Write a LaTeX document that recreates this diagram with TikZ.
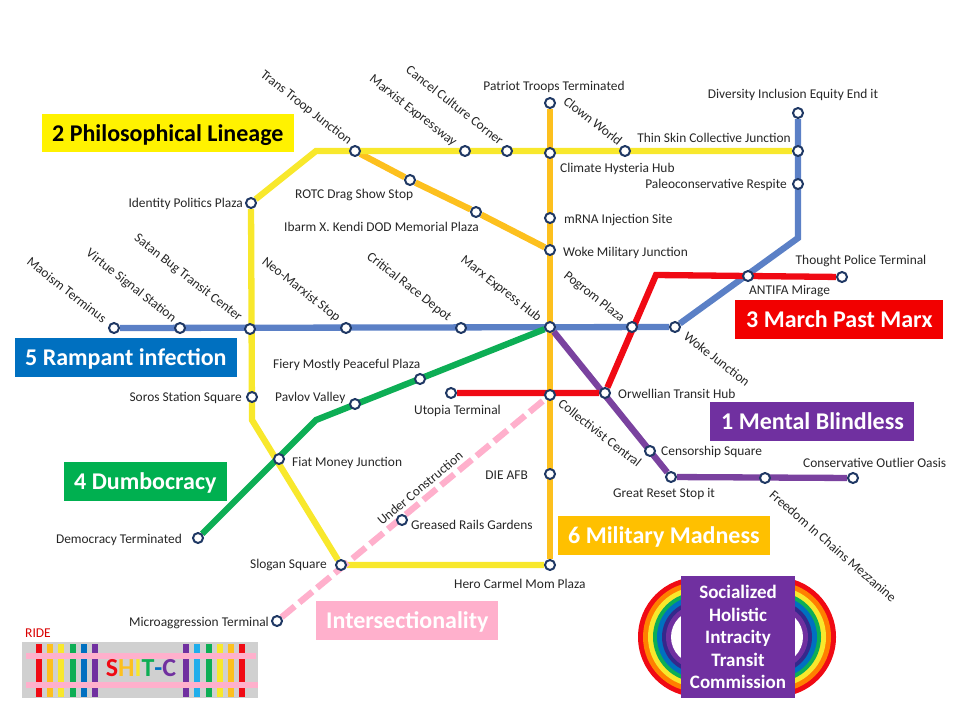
\documentclass[tikz,border=0pt]{standalone}
\usepackage{fontspec}
\setmainfont{Carlito}
\usetikzlibrary{backgrounds}
\definecolor{lineyellow}{HTML}{F8E82C}
\definecolor{lineorange}{HTML}{FDC01E}
\definecolor{lineblue}{HTML}{5B80C6}
\definecolor{linered}{HTML}{F00A14}
\definecolor{linegreen}{HTML}{0DAE55}
\definecolor{linepurple}{HTML}{7A429F}
\definecolor{linepink}{HTML}{FFB0CC}
\definecolor{stationnavy}{HTML}{1F3864}
\definecolor{boxblue}{HTML}{0070C0}
\definecolor{boxgreen}{HTML}{00B050}
\definecolor{boxpurple}{HTML}{7030A0}
\definecolor{boxorange}{HTML}{FFC000}
\definecolor{labelgrey}{HTML}{262626}
\definecolor{logogrey}{HTML}{D0D0D0}
\definecolor{skyblue}{HTML}{1FAEEB}
\definecolor{darkring}{HTML}{35288C}

\begin{document}
\begin{tikzpicture}[x=1pt,y=-1pt,
		stn/.style={circle,draw=stationnavy,fill=white,line width=2pt,minimum size=10pt,inner sep=0pt},
		route/.style={line width=6.3pt,line join=miter},
		lbl/.style={text=labelgrey,font=\fontsize{13.4}{15}\selectfont,inner sep=0pt,yshift=-1pt},
		slbl/.style={lbl,rotate=-38},
		bigbox/.style={font=\fontsize{24}{28}\bfseries\selectfont,inner sep=0pt,anchor=base west}]
		\useasboundingbox (0,0) rectangle (960,720);
		% stations
		\node[stn] (patriot) at (550,103) {};
		\node[stn] (climate) at (550,153) {};
		\node[stn] (mrna) at (550,218) {};
		\node[stn] (wokemil) at (550,250) {};
		\node[stn] (marxhub) at (550,327) {};
		\node[stn] (collectivist) at (550,395) {};
		\node[stn] (dieafb) at (550,474) {};
		\node[stn] (hero) at (550,565) {};
		\node[stn] (diversity) at (798,113) {};
		\node[stn] (thinskin) at (798,151) {};
		\node[stn] (paleo) at (798,184) {};
		\node[stn] (clown) at (625,151) {};
		\node[stn] (transtroop) at (355,151) {};
		\node[stn] (marxist) at (465,151) {};
		\node[stn] (cancel) at (507,151) {};
		\node[stn] (rotc) at (410,180) {};
		\node[stn] (ibarm) at (476,212) {};
		\node[stn] (identity) at (251,203) {};
		\node[stn] (soros) at (252,397) {};
		\node[stn] (fiat) at (279,459) {};
		\node[stn] (slogan) at (341,565) {};
		\node[stn] (maoism) at (114,328) {};
		\node[stn] (virtue) at (180,328) {};
		\node[stn] (satan) at (250,329) {};
		\node[stn] (neomarx) at (346,328) {};
		\node[stn] (critical) at (461,328) {};
		\node[stn] (pogrom) at (632,327) {};
		\node[stn] (wokejct) at (675,327) {};
		\node[stn] (thought) at (842,277) {};
		\node[stn] (antifa) at (748,276) {};
		\node[stn] (utopia) at (451,393) {};
		\node[stn] (orwell) at (605,393) {};
		\node[stn] (censor) at (650,451) {};
		\node[stn] (greatreset) at (671,477) {};
		\node[stn] (freedom) at (765,478) {};
		\node[stn] (outlier) at (853,478) {};
		\node[stn] (fiery) at (420,379) {};
		\node[stn] (pavlov) at (355,404) {};
		\node[stn] (democracy) at (198,538) {};
		\node[stn] (greased) at (402,520) {};
		\node[stn] (microagg) at (277,621) {};
		% bends
		\coordinate (yellowtop) at (316,151);
		\coordinate (yellowlow) at (252,420);
		\coordinate (bluebend) at (798,238);
		\coordinate (redbend) at (656,275);
		\coordinate (greenbend) at (316,420);
		% routes
		\begin{scope}[on background layer]
		\draw[route,lineorange] (patriot) -- (hero);
		\draw[route,lineorange] (transtroop) -- (rotc) -- (ibarm) -- (wokemil);
		\draw[route,lineyellow] (thinskin) -- (yellowtop) -- (identity) -- (yellowlow) -- (slogan) -- (hero);
		\draw[route,lineblue] (maoism) -- (wokejct) -- (bluebend) -- (diversity);
		\draw[route,linegreen] (democracy) -- (greenbend) -- (marxhub);
		\draw[route,linepurple] (marxhub) -- (greatreset) -- (outlier);
		\draw[route,linered] (utopia) -- (orwell) -- (redbend) -- (thought);
		\draw[route,linepink,dash pattern=on 17pt off 6pt] (microagg) -- (collectivist);
		\end{scope}
		% level labels
		\node[lbl] (patriotlbl) at (554,86) {Patriot Troops Terminated};
		\node[lbl] (divlbl) at (793,94) {Diversity Inclusion Equity End it};
		\node[lbl] (thinlbl) at (714,137) {Thin Skin Collective Junction};
		\node[lbl,anchor=west] (climlbl) at (560,168) {Climate Hysteria Hub};
		\node[lbl,anchor=east] (palelbl) at (787,184) {Paleoconservative Respite};
		\node[lbl,anchor=west] (mrnalbl) at (564,219) {mRNA Injection Site};
		\node[lbl,anchor=west] (wmlbl) at (563,252) {Woke Military Junction};
		\node[lbl] (thoulbl) at (861,260) {Thought Police Terminal};
		\node[lbl,anchor=west] (antilbl) at (749,290) {ANTIFA Mirage};
		\node[lbl,anchor=west] (rotclbl) at (295,194) {ROTC Drag Show Stop};
		\node[lbl,anchor=west] (ibarlbl) at (284,226) {Ibarm X. Kendi DOD Memorial Plaza};
		\node[lbl,anchor=east] (idenlbl) at (243,203) {Identity Politics Plaza};
		\node[lbl,anchor=west] (fierlbl) at (273,364) {Fiery Mostly Peaceful Plaza};
		\node[lbl,anchor=west] (pavllbl) at (275,397) {Pavlov Valley};
		\node[lbl,anchor=east] (sorolbl) at (242,397) {Soros Station Square};
		\node[lbl,anchor=west] (utoplbl) at (414,410) {Utopia Terminal};
		\node[lbl,anchor=west] (orwelbl) at (618,393) {Orwellian Transit Hub};
		\node[lbl,anchor=west] (censlbl) at (661,451) {Censorship Square};
		\node[lbl,anchor=west] (gsetlbl) at (613,493) {Great Reset Stop it};
		\node[lbl,anchor=west] (outllbl) at (803,462) {Conservative Outlier Oasis};
		\node[lbl,anchor=west] (fiatlbl) at (292,462) {Fiat Money Junction};
		\node[lbl,anchor=east] (dielbl) at (528,474) {DIE AFB};
		\node[lbl,anchor=west] (grealbl) at (411,524) {Greased Rails Gardens};
		\node[lbl,anchor=east] (demolbl) at (182,539) {Democracy Terminated};
		\node[lbl,anchor=east] (sloglbl) at (327,564) {Slogan Square};
		\node[lbl,anchor=west] (herolbl) at (454,583) {Hero Carmel Mom Plaza};
		\node[lbl,anchor=east] (micrlbl) at (269,622) {Microaggression Terminal};
		% sloped labels
		\node[slbl] (translbl) at (306,107) {Trans Troop Junction};
		\node[slbl] (marxlbl) at (413,110) {Marxist Expressway};
		\node[slbl] (canclbl) at (455,104) {Cancel Culture Corner};
		\node[slbl] (clowlbl) at (593,120) {Clown World};
		\node[slbl] (maolbl) at (67,289) {Maoism Terminus};
		\node[slbl] (virtlbl) at (131,285) {Virtue Signal Station};
		\node[slbl] (satalbl) at (188,277) {Satan Bug Transit Center};
		\node[slbl] (neolbl) at (301,289) {Neo-Marxist Stop};
		\node[slbl] (critlbl) at (409,286) {Critical Race Depot};
		\node[slbl] (hublbl) at (501,288) {Marx Express Hub};
		\node[slbl] (pogrlbl) at (594,296) {Pogrom Plaza};
		\node[slbl] (wjctlbl) at (717,358) {Woke Junction};
		\node[slbl] (colllbl) at (600,432) {Collectivist Central};
		\node[lbl,rotate=-41] (freelbl) at (833,545) {Freedom In Chains Mezzanine};
		\node[lbl,rotate=40] (undelbl) at (420,487) {Under Construction};
		% line boxes
		\fill[yellow] (42,114) rectangle (294,152);
		\node[bigbox] (box2) at (52,141) {2 Philosophical Lineage};
		\fill[red!95!black] (735,300) rectangle (943,339);
		\node[bigbox,white] (box3) at (746,327) {3 March Past Marx};
		\fill[boxblue] (15,338) rectangle (237,377);
		\node[bigbox,white] (box5) at (25,365) {5 Rampant infection};
		\fill[boxpurple] (710,402) rectangle (914,441);
		\node[bigbox,white] (box1) at (721,429) {1 Mental Blindless};
		\fill[boxgreen] (64,462) rectangle (227,501);
		\node[bigbox,white] (box4) at (74,489) {4 Dumbocracy};
		\fill[boxorange] (558,516) rectangle (770,555);
		\node[bigbox,white] (box6) at (568,543) {6 Military Madness};
		\fill[linepink] (316,601) rectangle (498,640);
		\node[bigbox,white] (boxi) at (326,628) {Intersectionality};
		% ride logo
		\node[text=red!85!black,font=\fontsize{13.5}{15}\selectfont,inner sep=0pt] (ride) at (38,633) {RIDE};
		\fill[logogrey] (22,642) rectangle (258,698);
		\foreach \x/\c in {39/linered,50/lineorange,61/lineyellow,73/linegreen,84/boxblue,95/boxpurple,186/boxpurple,197/skyblue,209/linegreen,220/lineyellow,231/lineorange,242/linered}
			\fill[\c] (\x-3.3,644) rectangle (\x+3.3,697);
		\fill[linepink] (26,653) rectangle (256,659);
		\fill[linepink] (26,682) rectangle (258,688);
		\node[font=\fontsize{26}{30}\bfseries\selectfont,inner sep=0pt] (shit) at (141,668) {\textcolor{linered}{S}\textcolor{lineorange}{H}\textcolor{lineyellow}{I}\textcolor{linegreen}{T}\textcolor{boxblue}{-}\textcolor{boxpurple}{C}};
		% rainbow logo
		\foreach \r/\c in {60/linered,55/orange,50/lineyellow,45/linegreen,41/boxblue,36/darkring,32/boxpurple,27/white} {
			\fill[\c] (698,637) circle[radius=\r];
			\fill[\c] (776,637) circle[radius=\r];
		}
		\node[fill=boxpurple,text=white,minimum width=114pt,minimum height=122pt,inner sep=0pt,align=center,font=\fontsize{19}{22.4}\bfseries\selectfont] (commission) at (738,637) {Socialized\\Holistic\\Intracity\\Transit\\Commission};
	\end{tikzpicture}
\end{document}
